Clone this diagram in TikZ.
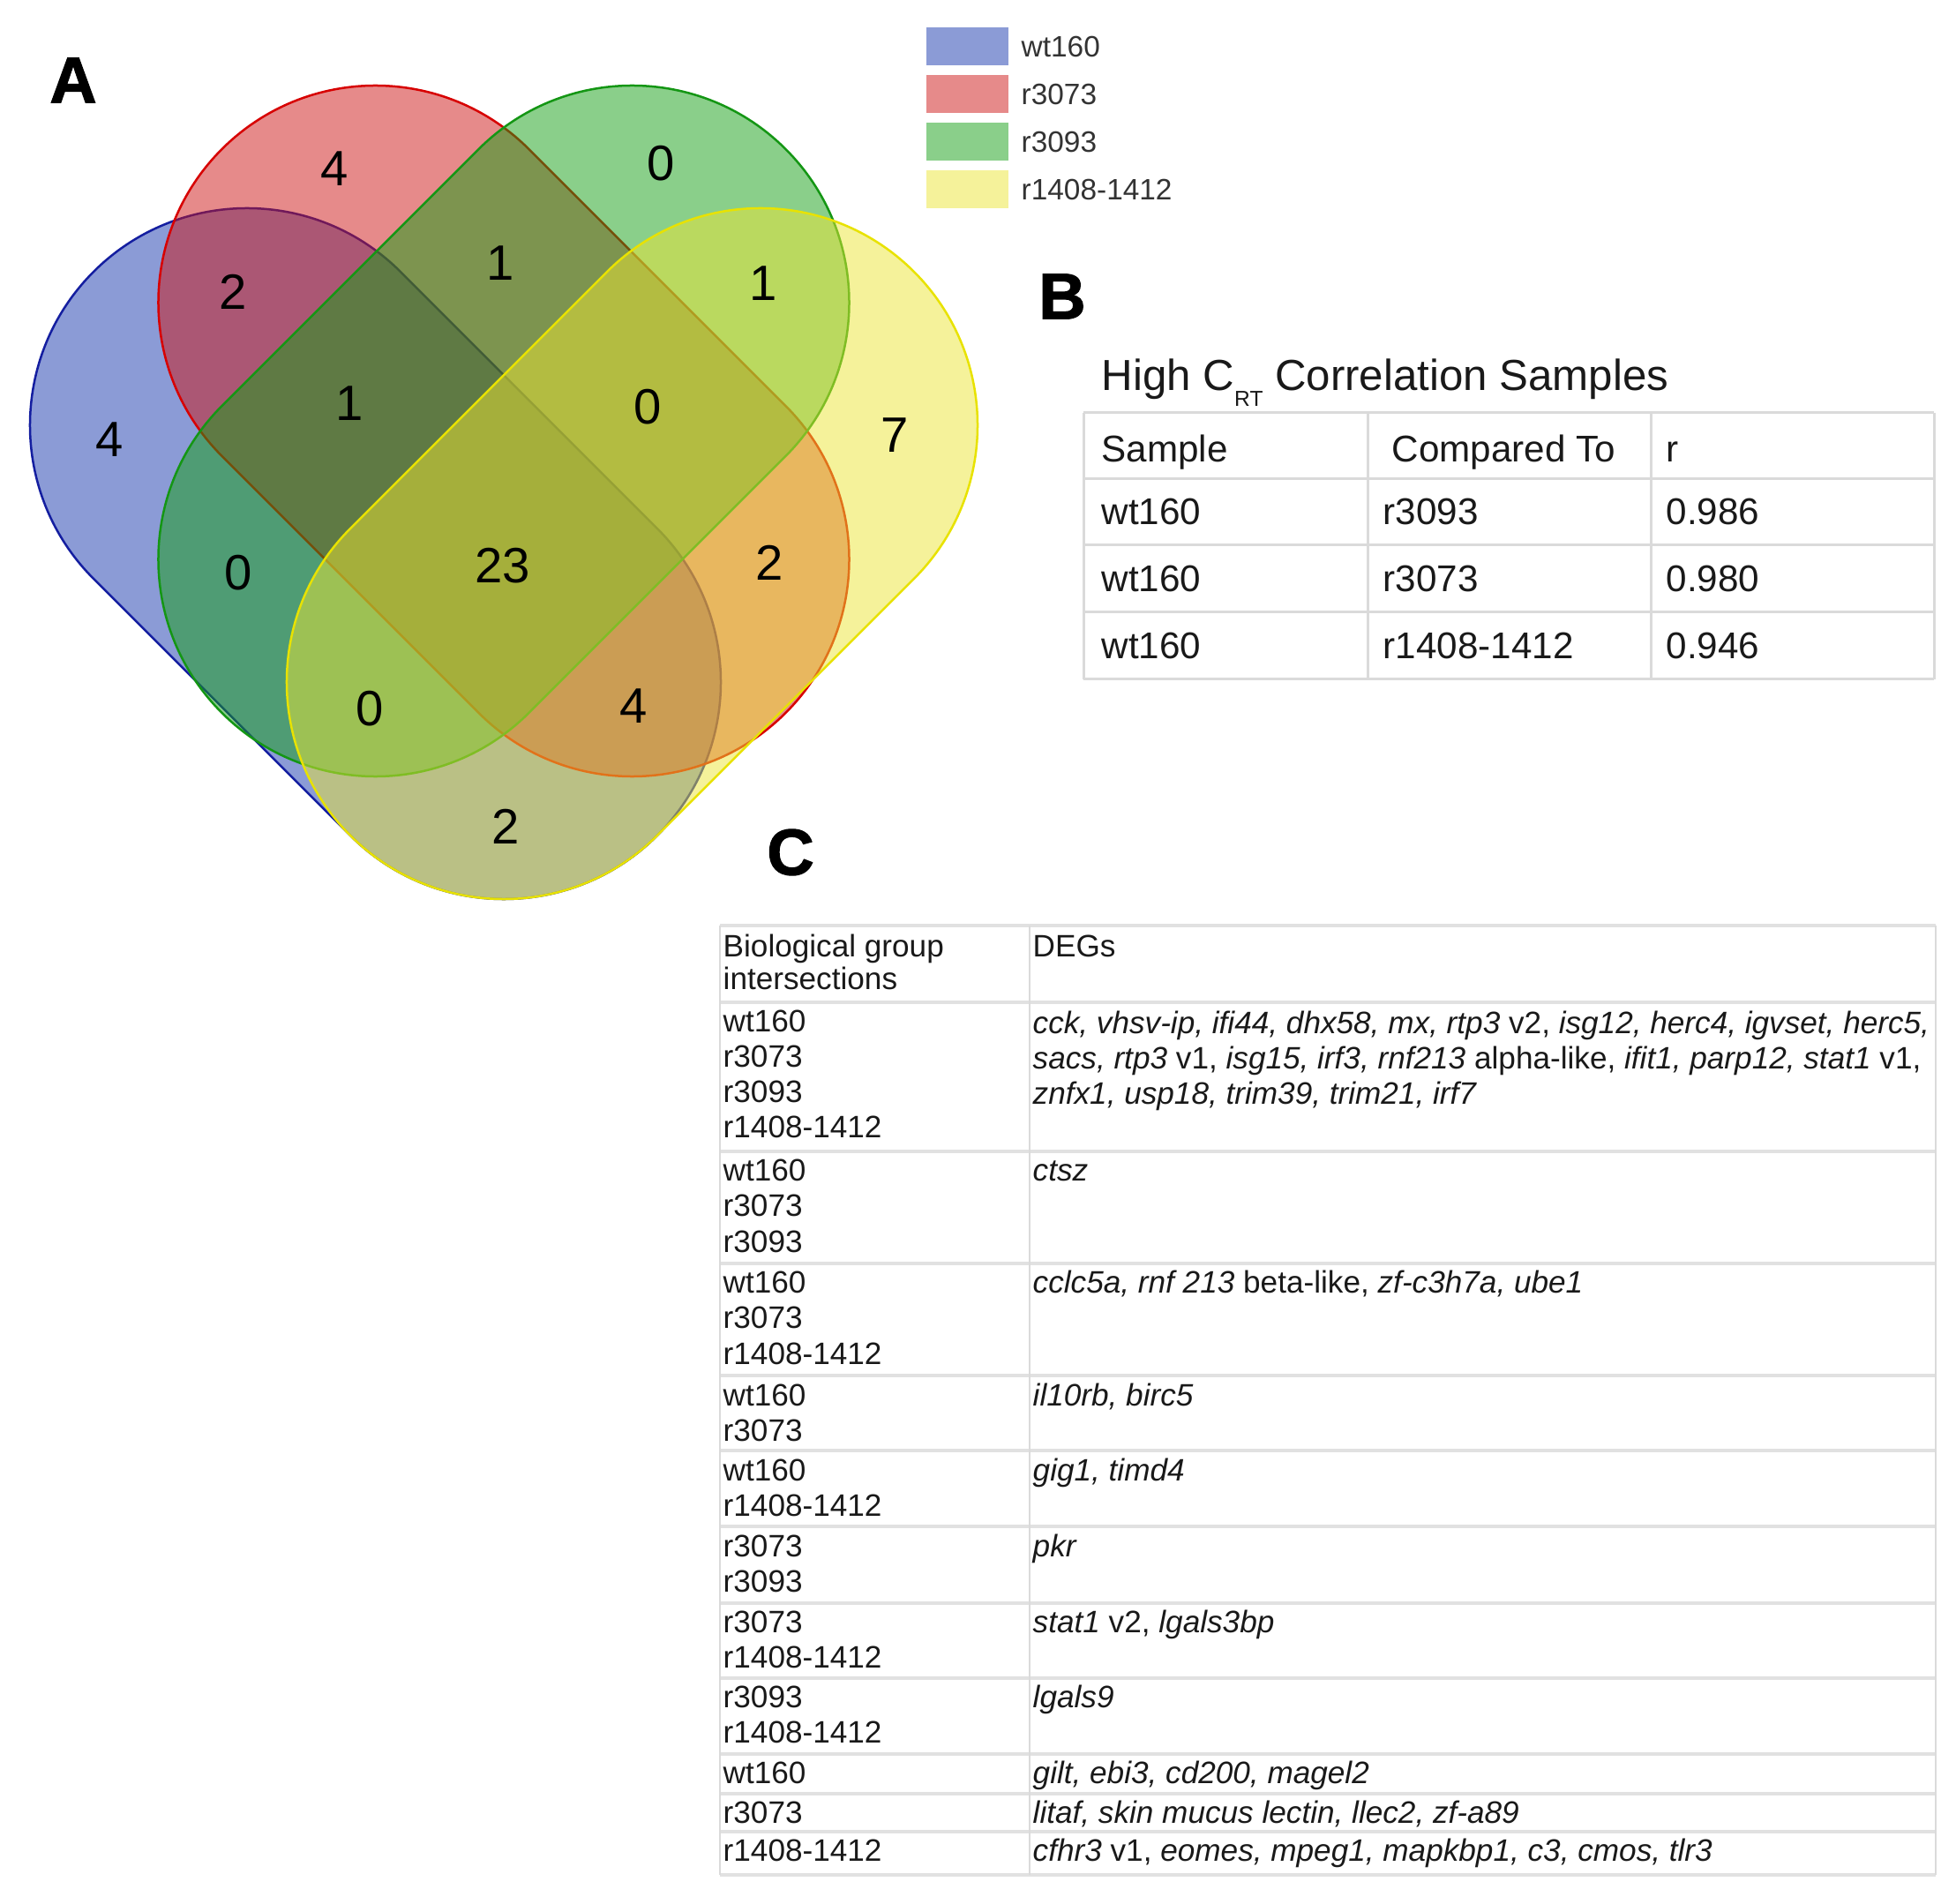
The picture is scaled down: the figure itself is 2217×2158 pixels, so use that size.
\documentclass[tikz,border=0pt]{standalone}
\usepackage{fontspec}
\setmainfont{Liberation Sans}
\newfontfamily\panelfont[FakeBold=1.6]{Liberation Sans Bold}
\definecolor{vblue}{RGB}{23,55,173}
\definecolor{vbluel}{RGB}{20,30,160}
\definecolor{vred}{RGB}{205,21,21}
\definecolor{vredl}{RGB}{215,0,0}
\definecolor{vgreen}{RGB}{21,159,21}
\definecolor{vgreenl}{RGB}{20,150,20}
\definecolor{vyellow}{RGB}{235,229,53}
\definecolor{vyellowl}{RGB}{232,226,0}
\definecolor{sblue}{RGB}{139,155,214}
\definecolor{sred}{RGB}{230,138,138}
\definecolor{sgreen}{RGB}{138,207,138}
\definecolor{syellow}{RGB}{245,242,154}
\definecolor{tline}{RGB}{218,218,218}
\definecolor{txt}{RGB}{25,25,25}
\begin{document}
\begin{tikzpicture}[x=0.01cm,y=-0.01cm,
  venn/.style={line width=0.025cm, fill opacity=0.5, draw opacity=1},
  num/.style={font=\fontsize{16}{19}\selectfont, inner sep=0, text=black},
  panel/.style={font=\fontsize{21}{25}\panelfont, inner sep=0, text=black},
  leg/.style={font=\fontsize{9.5}{11}\selectfont, text=black!80, anchor=base west, inner sep=0},
  btxt/.style={font=\fontsize{12}{14}\selectfont, anchor=base west, inner sep=0, text=txt},
  ctxt/.style={font=\fontsize{10}{12}\selectfont, anchor=base west, inner sep=0, text=txt},
  bline/.style={draw=tline, line width=0.03cm},
  chline/.style={draw=tline!80, line width=0.045cm},
  cvline/.style={draw=tline, line width=0.025cm}]
\useasboundingbox (0,0) rectangle (2217,2158);

% ---------- Venn diagram ----------
\filldraw[venn, fill=vblue, draw=vbluel, shift={(425.5,627.5)}, rotate=-45]
  (-205.8,-246) -- (205.8,-246) arc[start angle=-90,end angle=90,radius=246]
  -- (-205.8,246) arc[start angle=90,end angle=270,radius=246] -- cycle;
\filldraw[venn, fill=vred, draw=vredl, shift={(571,488.5)}, rotate=-45]
  (-205.8,-246) -- (205.8,-246) arc[start angle=-90,end angle=90,radius=246]
  -- (-205.8,246) arc[start angle=90,end angle=270,radius=246] -- cycle;
\filldraw[venn, fill=vgreen, draw=vgreenl, shift={(571,488.5)}, rotate=45]
  (-205.8,-246) -- (205.8,-246) arc[start angle=-90,end angle=90,radius=246]
  -- (-205.8,246) arc[start angle=90,end angle=270,radius=246] -- cycle;
\filldraw[venn, fill=vyellow, draw=vyellowl, shift={(716.5,627.5)}, rotate=45]
  (-205.8,-246) -- (205.8,-246) arc[start angle=-90,end angle=90,radius=246]
  -- (-205.8,246) arc[start angle=90,end angle=270,radius=246] -- cycle;

\node[num] (n1) at (379,191) {4};
\node[num] (n2) at (749,185) {0};
\node[num] (n3) at (264,331) {2};
\node[num] (n4) at (567,298) {1};
\node[num] (n5) at (865,321) {1};
\node[num] (n6) at (124,498) {4};
\node[num] (n7) at (396,457) {1};
\node[num] (n8) at (734,461) {0};
\node[num] (n9) at (1014,493) {7};
\node[num] (n10) at (270,649) {0};
\node[num] (n11) at (570,641) {23};
\node[num] (n12) at (872,638) {2};
\node[num] (n13) at (419,803) {0};
\node[num] (n14) at (718,800) {4};
\node[num] (n15) at (573,937) {2};

\node[panel] (pa) at (83,91) {A};
\node[panel] (pb) at (1204,336) {B};
\node[panel] (pc) at (896,966) {C};

% ---------- Legend ----------
\fill[sblue] (1050,31) rectangle (1143,74);
\fill[sred] (1050,85) rectangle (1143,128);
\fill[sgreen] (1050,139) rectangle (1143,182);
\fill[syellow] (1050,193) rectangle (1143,236);
\node[leg] (l1) at (1157,64.5) {wt160};
\node[leg] (l2) at (1157,119) {r3073};
\node[leg] (l3) at (1157,173) {r3093};
\node[leg] (l4) at (1157,227) {r1408-1412};

% ---------- Table B ----------
\node[btxt, font=\fontsize{14}{16}\selectfont] (bt) at (1248,443)
  {High C\raisebox{-0.17cm}{\fontsize{7}{8}\selectfont RT} Correlation Samples};
\foreach \yy in {468,543,618,694,770} \draw[bline] (1228,\yy) -- (2192,\yy);
\foreach \xx in {1228,1550,1871,2192} \draw[bline] (\xx,468) -- (\xx,770);
\node[btxt] (bh1) at (1248,524) {Sample};
\node[btxt] (bh2) at (1577,524) {Compared To};
\node[btxt] (bh3) at (1888,524) {r};
\node[btxt] (b11) at (1248,595) {wt160};
\node[btxt] (b12) at (1567,595) {r3093};
\node[btxt] (b13) at (1888,595) {0.986};
\node[btxt] (b21) at (1248,671) {wt160};
\node[btxt] (b22) at (1567,671) {r3073};
\node[btxt] (b23) at (1888,671) {0.980};
\node[btxt] (b31) at (1248,747) {wt160};
\node[btxt] (b32) at (1567,747) {r1408-1412};
\node[btxt] (b33) at (1888,747) {0.946};

% ---------- Table C ----------
\foreach \yy in {1049,1136,1305,1432,1559,1644,1730,1817,1902,1988,2033,2076,2125}
  \draw[chline] (816,\yy) -- (2194,\yy);
\foreach \xx in {816,1167,2194} \draw[cvline] (\xx,1049) -- (\xx,2125);

\node[ctxt] (ch1) at (819,1084) {Biological group};
\node[ctxt] (ch2) at (819,1121) {intersections};
\node[ctxt] (ch3) at (1170,1084) {DEGs};

\node[ctxt] (c1a) at (819,1169.5) {wt160};
\node[ctxt] (c1b) at (819,1209.5) {r3073};
\node[ctxt] (c1c) at (819,1249.5) {r3093};
\node[ctxt] (c1d) at (819,1289.5) {r1408-1412};
\node[ctxt] (d1a) at (1170,1171.5) {\textit{cck, vhsv-ip, ifi44, dhx58, mx, rtp3} v2, \textit{isg12, herc4, igvset, herc5,}};
\node[ctxt] (d1b) at (1170,1211.5) {\textit{sacs, rtp3} v1, \textit{isg15, irf3, rnf213} alpha-like, \textit{ifit1, parp12, stat1} v1,};
\node[ctxt] (d1c) at (1170,1251.5) {\textit{znfx1, usp18, trim39, trim21, irf7}};

\node[ctxt] (c2a) at (819,1338.5) {wt160};
\node[ctxt] (c2b) at (819,1378.5) {r3073};
\node[ctxt] (c2c) at (819,1419.5) {r3093};
\node[ctxt] (d2a) at (1170,1338.5) {\textit{ctsz}};

\node[ctxt] (c3a) at (819,1465.5) {wt160};
\node[ctxt] (c3b) at (819,1505.5) {r3073};
\node[ctxt] (c3c) at (819,1546.5) {r1408-1412};
\node[ctxt] (d3a) at (1170,1465.5) {\textit{cclc5a, rnf 213} beta-like, \textit{zf-c3h7a, ube1}};

\node[ctxt] (c4a) at (819,1593) {wt160};
\node[ctxt] (c4b) at (819,1633) {r3073};
\node[ctxt] (d4a) at (1170,1593) {\textit{il10rb, birc5}};

\node[ctxt] (c5a) at (819,1678) {wt160};
\node[ctxt] (c5b) at (819,1718) {r1408-1412};
\node[ctxt] (d5a) at (1170,1678) {\textit{gig1, timd4}};

\node[ctxt] (c6a) at (819,1764) {r3073};
\node[ctxt] (c6b) at (819,1804) {r3093};
\node[ctxt] (d6a) at (1170,1764) {\textit{pkr}};

\node[ctxt] (c7a) at (819,1850.5) {r3073};
\node[ctxt] (c7b) at (819,1890.5) {r1408-1412};
\node[ctxt] (d7a) at (1170,1850.5) {\textit{stat1} v2, \textit{lgals3bp}};

\node[ctxt] (c8a) at (819,1935.5) {r3093};
\node[ctxt] (c8b) at (819,1975.5) {r1408-1412};
\node[ctxt] (d8a) at (1170,1935.5) {\textit{lgals9}};

\node[ctxt] (c9a) at (819,2021) {wt160};
\node[ctxt] (d9a) at (1170,2021) {\textit{gilt, ebi3, cd200, magel2}};

\node[ctxt] (c10a) at (819,2066) {r3073};
\node[ctxt] (d10a) at (1170,2066) {\textit{litaf, skin mucus lectin, llec2, zf-a89}};

\node[ctxt] (c11a) at (819,2109.5) {r1408-1412};
\node[ctxt] (d11a) at (1170,2109.5) {\textit{cfhr3} v1, \textit{eomes, mpeg1, mapkbp1, c3, cmos, tlr3}};
\end{tikzpicture}
\end{document}
